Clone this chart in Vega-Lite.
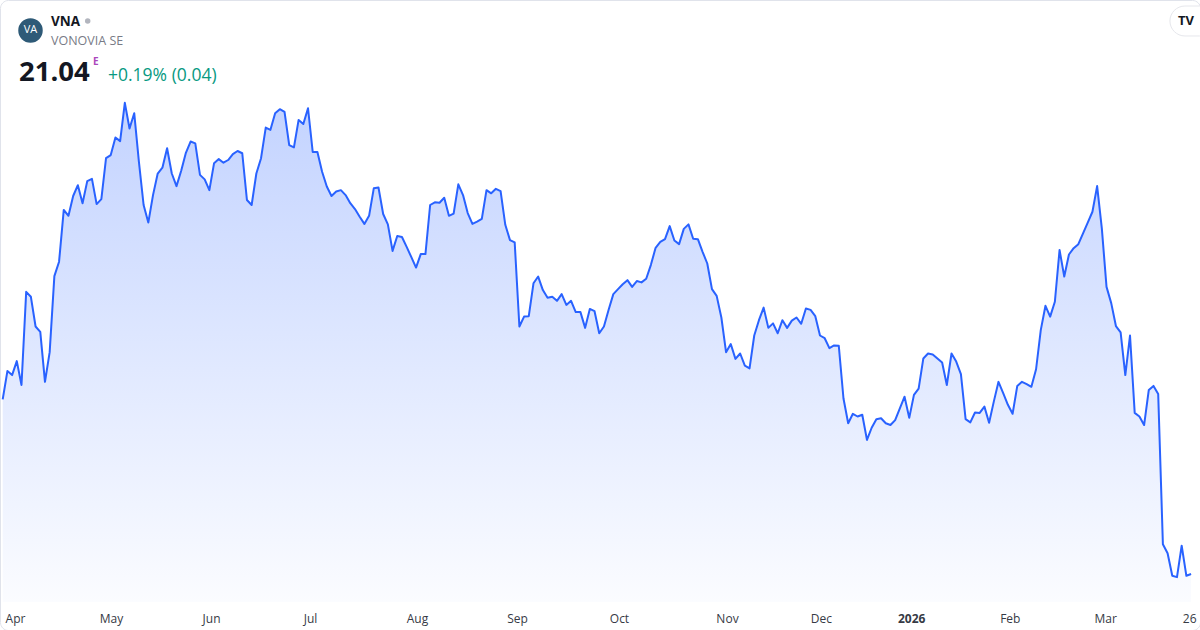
{
  "$schema": "https://vega.github.io/schema/vega-lite/v6.json",
  "width": 1200,
  "height": 630,
  "autosize": {"type": "none"},
  "padding": 0,
  "background": "#ffffff",
  "config": {
    "view": {"stroke": "#e0e3eb", "strokeWidth": 1, "cornerRadius": 8},
    "font": "Open Sans",
    "axisX": {"domain": false, "ticks": false, "grid": false}
  },
  "datasets": {
    "prices": [
      {"i":0,"close":24.92},{"i":1,"close":25.55},{"i":2,"close":25.46},{"i":3,"close":25.77},{"i":4,"close":25.24},
      {"i":5,"close":27.31},{"i":6,"close":27.20},{"i":7,"close":26.54},{"i":8,"close":26.42},{"i":9,"close":25.31},
      {"i":10,"close":25.97},{"i":11,"close":27.66},{"i":12,"close":27.98},{"i":13,"close":29.13},{"i":14,"close":29.00},
      {"i":15,"close":29.44},{"i":16,"close":29.68},{"i":17,"close":29.28},{"i":18,"close":29.77},{"i":19,"close":29.82},
      {"i":20,"close":29.26},{"i":21,"close":29.37},{"i":22,"close":30.28},{"i":23,"close":30.35},{"i":24,"close":30.74},
      {"i":25,"close":30.66},{"i":26,"close":31.51},{"i":27,"close":30.94},{"i":28,"close":31.28},{"i":29,"close":30.20},
      {"i":30,"close":29.24},{"i":31,"close":28.85},{"i":32,"close":29.46},{"i":33,"close":29.94},{"i":34,"close":30.07},
      {"i":35,"close":30.50},{"i":36,"close":29.94},{"i":37,"close":29.66},{"i":38,"close":30.00},{"i":39,"close":30.40},
      {"i":40,"close":30.65},{"i":41,"close":30.61},{"i":42,"close":29.91},{"i":43,"close":29.81},{"i":44,"close":29.57},
      {"i":45,"close":30.17},{"i":46,"close":30.26},{"i":47,"close":30.18},{"i":48,"close":30.24},{"i":49,"close":30.37},
      {"i":50,"close":30.44},{"i":51,"close":30.39},{"i":52,"close":29.35},{"i":53,"close":29.24},{"i":54,"close":29.94},
      {"i":55,"close":30.28},{"i":56,"close":30.96},{"i":57,"close":30.91},{"i":58,"close":31.28},{"i":59,"close":31.37},
      {"i":60,"close":31.31},{"i":61,"close":30.57},{"i":62,"close":30.52},{"i":63,"close":31.13},{"i":64,"close":31.04},
      {"i":65,"close":31.39},{"i":66,"close":30.42},{"i":67,"close":30.42},{"i":68,"close":29.98},{"i":69,"close":29.65},
      {"i":70,"close":29.44},{"i":71,"close":29.54},{"i":72,"close":29.57},{"i":73,"close":29.46},{"i":74,"close":29.28},
      {"i":75,"close":29.15},{"i":76,"close":28.98},{"i":77,"close":28.82},{"i":78,"close":29.00},{"i":79,"close":29.61},
      {"i":80,"close":29.63},{"i":81,"close":29.04},{"i":82,"close":28.81},{"i":83,"close":28.22},{"i":84,"close":28.55},
      {"i":85,"close":28.53},{"i":86,"close":28.31},{"i":87,"close":28.08},{"i":88,"close":27.85},{"i":89,"close":28.15},
      {"i":90,"close":28.15},{"i":91,"close":29.24},{"i":92,"close":29.30},{"i":93,"close":29.29},{"i":94,"close":29.40},
      {"i":95,"close":29.00},{"i":96,"close":29.05},{"i":97,"close":29.70},{"i":98,"close":29.46},{"i":99,"close":29.06},
      {"i":100,"close":28.82},{"i":101,"close":28.87},{"i":102,"close":28.93},{"i":103,"close":29.57},{"i":104,"close":29.50},
      {"i":105,"close":29.60},{"i":106,"close":29.55},{"i":107,"close":28.80},{"i":108,"close":28.46},{"i":109,"close":28.41},
      {"i":110,"close":26.54},{"i":111,"close":26.76},{"i":112,"close":26.77},{"i":113,"close":27.50},{"i":114,"close":27.65},
      {"i":115,"close":27.35},{"i":116,"close":27.18},{"i":117,"close":27.20},{"i":118,"close":27.11},{"i":119,"close":27.26},
      {"i":120,"close":27.02},{"i":121,"close":27.11},{"i":122,"close":26.86},{"i":123,"close":26.86},{"i":124,"close":26.51},
      {"i":125,"close":26.93},{"i":126,"close":26.88},{"i":127,"close":26.39},{"i":128,"close":26.54},{"i":129,"close":26.91},
      {"i":130,"close":27.26},{"i":131,"close":27.37},{"i":132,"close":27.48},{"i":133,"close":27.57},{"i":134,"close":27.42},
      {"i":135,"close":27.55},{"i":136,"close":27.52},{"i":137,"close":27.60},{"i":138,"close":27.91},{"i":139,"close":28.29},
      {"i":140,"close":28.42},{"i":141,"close":28.48},{"i":142,"close":28.77},{"i":143,"close":28.45},{"i":144,"close":28.37},
      {"i":145,"close":28.71},{"i":146,"close":28.81},{"i":147,"close":28.49},{"i":148,"close":28.48},{"i":149,"close":28.20},
      {"i":150,"close":27.94},{"i":151,"close":27.37},{"i":152,"close":27.22},{"i":153,"close":26.74},{"i":154,"close":25.97},
      {"i":155,"close":26.15},{"i":156,"close":25.82},{"i":157,"close":25.94},{"i":158,"close":25.67},{"i":159,"close":25.61},
      {"i":160,"close":26.34},{"i":161,"close":26.68},{"i":162,"close":26.96},{"i":163,"close":26.51},{"i":164,"close":26.61},
      {"i":165,"close":26.39},{"i":166,"close":26.68},{"i":167,"close":26.51},{"i":168,"close":26.67},{"i":169,"close":26.74},
      {"i":170,"close":26.60},{"i":171,"close":26.94},{"i":172,"close":26.91},{"i":173,"close":26.77},{"i":174,"close":26.34},
      {"i":175,"close":26.28},{"i":176,"close":26.06},{"i":177,"close":26.12},{"i":178,"close":26.11},{"i":179,"close":24.94},
      {"i":180,"close":24.39},{"i":181,"close":24.60},{"i":182,"close":24.54},{"i":183,"close":24.58},{"i":184,"close":24.02},
      {"i":185,"close":24.29},{"i":186,"close":24.48},{"i":187,"close":24.50},{"i":188,"close":24.39},{"i":189,"close":24.35},
      {"i":190,"close":24.46},{"i":191,"close":24.72},{"i":192,"close":24.98},{"i":193,"close":24.51},{"i":194,"close":25.02},
      {"i":195,"close":25.16},{"i":196,"close":25.83},{"i":197,"close":25.94},{"i":198,"close":25.92},{"i":199,"close":25.83},
      {"i":200,"close":25.74},{"i":201,"close":25.24},{"i":202,"close":25.94},{"i":203,"close":25.76},{"i":204,"close":25.48},
      {"i":205,"close":24.48},{"i":206,"close":24.41},{"i":207,"close":24.63},{"i":208,"close":24.62},{"i":209,"close":24.76},
      {"i":210,"close":24.40},{"i":211,"close":24.87},{"i":212,"close":25.31},{"i":213,"close":25.06},{"i":214,"close":24.80},
      {"i":215,"close":24.60},{"i":216,"close":25.22},{"i":217,"close":25.31},{"i":218,"close":25.26},{"i":219,"close":25.20},
      {"i":220,"close":25.59},{"i":221,"close":26.46},{"i":222,"close":27.00},{"i":223,"close":26.76},{"i":224,"close":27.09},
      {"i":225,"close":28.24},{"i":226,"close":27.65},{"i":227,"close":28.14},{"i":228,"close":28.28},{"i":229,"close":28.37},
      {"i":230,"close":28.61},{"i":231,"close":28.85},{"i":232,"close":29.09},{"i":233,"close":29.66},{"i":234,"close":28.72},
      {"i":235,"close":27.42},{"i":236,"close":27.06},{"i":237,"close":26.55},{"i":238,"close":26.41},{"i":239,"close":25.46},
      {"i":240,"close":26.34},{"i":241,"close":24.62},{"i":242,"close":24.54},{"i":243,"close":24.35},{"i":244,"close":25.13},
      {"i":245,"close":25.22},{"i":246,"close":25.04},{"i":247,"close":21.70},{"i":248,"close":21.50},{"i":249,"close":21.00},
      {"i":250,"close":20.97},{"i":251,"close":21.67},{"i":252,"close":21.00},{"i":253,"close":21.04}
    ]
  },
  "layer": [
    {
      "data": {"name": "prices"},
      "mark": {
        "type": "area",
        "interpolate": "linear",
        "color": {
          "gradient": "linear",
          "x1": 0, "y1": 0, "x2": 0, "y2": 1,
          "stops": [
            {"offset": 0, "color": "rgba(41,98,255,0.28)"},
            {"offset": 1, "color": "rgba(41,98,255,0.02)"}
          ]
        }
      },
      "encoding": {
        "x": {
          "field": "i",
          "type": "quantitative",
          "scale": {"domain": [-0.575, 254.9], "nice": false, "zero": false},
          "axis": {
            "orient": "bottom",
            "offset": -28,
            "zindex": 1,
            "values": [2.62, 23.06, 44.35, 65.42, 88.2, 109.5, 131.2, 154.2, 174.2, 193.4, 214.4, 234.7, 252.6],
            "labelExpr": "datum.value < 10 ? 'Apr' : datum.value < 30 ? 'May' : datum.value < 50 ? 'Jun' : datum.value < 70 ? 'Jul' : datum.value < 95 ? 'Aug' : datum.value < 120 ? 'Sep' : datum.value < 140 ? 'Oct' : datum.value < 160 ? 'Nov' : datum.value < 180 ? 'Dec' : datum.value < 200 ? '2026' : datum.value < 220 ? 'Feb' : datum.value < 240 ? 'Mar' : '26'",
            "domain": false,
            "ticks": false,
            "grid": false,
            "title": null,
            "labelPadding": 16,
            "labelBaseline": "middle",
            "labelFont": "Open Sans",
            "labelFontSize": 12,
            "labelColor": "#363a45",
            "labelFlush": false,
            "labelOverlap": false,
            "labelBound": false,
            "labelFontWeight": {"condition": {"test": "datum.value > 190 && datum.value < 200", "value": "bold"}, "value": "normal"}
          }
        },
        "y": {
          "field": "close",
          "type": "quantitative",
          "scale": {"domain": [19.7956, 33.7956], "nice": false, "zero": false},
          "axis": null
        },
        "y2": {"datum": 20.418}
      }
    },
    {
      "data": {"name": "prices"},
      "mark": {"type": "line", "color": "#2962ff", "strokeWidth": 2, "strokeJoin": "round", "interpolate": "linear"},
      "encoding": {
        "x": {"field": "i", "type": "quantitative"},
        "y": {"field": "close", "type": "quantitative", "axis": null}
      }
    },
    {
      "data": {"values": [{"t": "badge"}]},
      "mark": {"type": "rect", "fill": "#ffffff", "stroke": "#e6e7ec", "strokeWidth": 1, "cornerRadius": 15},
      "encoding": {
        "x": {"datum": 248.5, "type": "quantitative"},
        "x2": {"datum": 258.0},
        "y": {"datum": 33.662, "type": "quantitative", "axis": null},
        "y2": {"datum": 32.996}
      }
    },
    {
      "data": {"values": [{"t": "logo"}]},
      "mark": {"type": "point", "shape": "circle", "filled": true, "size": 600, "color": "#2e5a77", "opacity": 1},
      "encoding": {
        "x": {"datum": 5.918, "type": "quantitative"},
        "y": {"datum": 33.118, "type": "quantitative", "axis": null}
      }
    },
    {
      "data": {"values": [{"t": "VA"}]},
      "mark": {"type": "text", "align": "center", "baseline": "middle", "font": "Open Sans", "fontSize": 11, "color": "#ffffff"},
      "encoding": {
        "x": {"datum": 5.918, "type": "quantitative"},
        "y": {"datum": 33.118, "type": "quantitative", "axis": null},
        "text": {"field": "t"}
      }
    },
    {
      "data": {"values": [{"t": "VNA"}]},
      "mark": {"type": "text", "align": "left", "baseline": "alphabetic", "font": "Open Sans", "fontSize": 13.5, "fontWeight": "bold", "color": "#131722"},
      "encoding": {
        "x": {"datum": 10.283, "type": "quantitative"},
        "y": {"datum": 33.224, "type": "quantitative", "axis": null},
        "text": {"field": "t"}
      }
    },
    {
      "data": {"values": [{"t": "dot"}]},
      "mark": {"type": "point", "shape": "circle", "filled": true, "size": 30, "color": "#b2b5be", "opacity": 1},
      "encoding": {
        "x": {"datum": 18.096, "type": "quantitative"},
        "y": {"datum": 33.329, "type": "quantitative", "axis": null}
      }
    },
    {
      "data": {"values": [{"t": "VONOVIA SE"}]},
      "mark": {"type": "text", "align": "left", "baseline": "alphabetic", "font": "Open Sans", "fontSize": 12.5, "color": "#787b86"},
      "encoding": {
        "x": {"datum": 10.283, "type": "quantitative"},
        "y": {"datum": 32.796, "type": "quantitative", "axis": null},
        "text": {"field": "t"}
      }
    },
    {
      "data": {"values": [{"t": "21.04"}]},
      "mark": {"type": "text", "align": "left", "baseline": "alphabetic", "font": "Open Sans", "fontSize": 27.5, "fontWeight": "bold", "color": "#131722"},
      "encoding": {
        "x": {"datum": 3.47, "type": "quantitative"},
        "y": {"datum": 31.996, "type": "quantitative", "axis": null},
        "text": {"field": "t"}
      }
    },
    {
      "data": {"values": [{"t": "E"}]},
      "mark": {"type": "text", "align": "left", "baseline": "alphabetic", "font": "Open Sans", "fontSize": 10, "fontWeight": "bold", "color": "#ab47bc"},
      "encoding": {
        "x": {"datum": 19.224, "type": "quantitative"},
        "y": {"datum": 32.351, "type": "quantitative", "axis": null},
        "text": {"field": "t"}
      }
    },
    {
      "data": {"values": [{"t": "+0.19% (0.04)"}]},
      "mark": {"type": "text", "align": "left", "baseline": "alphabetic", "font": "Open Sans", "fontSize": 17.5, "color": "#089981"},
      "encoding": {
        "x": {"datum": 22.418, "type": "quantitative"},
        "y": {"datum": 32.002, "type": "quantitative", "axis": null},
        "text": {"field": "t"}
      }
    },
    {
      "data": {"values": [{"t": "TV"}]},
      "mark": {"type": "text", "align": "center", "baseline": "middle", "font": "Open Sans", "fontSize": 13, "fontWeight": "bold", "color": "#131722"},
      "encoding": {
        "x": {"datum": 251.92, "type": "quantitative"},
        "y": {"datum": 33.329, "type": "quantitative", "axis": null},
        "text": {"field": "t"}
      }
    }
  ]
}
